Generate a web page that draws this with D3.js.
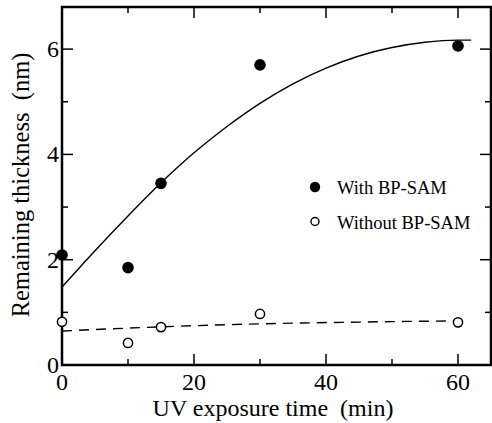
<!DOCTYPE html>
<html>
<head>
<meta charset="utf-8">
<script src="https://cdn.jsdelivr.net/npm/d3@7"></script>
<style>
  body { margin: 0; background: #fff; }
  svg text { font-family: "Liberation Serif", "Times New Roman", serif; fill: #000; }
</style>
</head>
<body>
<div id="chart"></div>
<script>
// measured points
const timeWith = [0, 10, 15, 30, 60];
const thickWith = [2.09, 1.85, 3.45, 5.70, 6.06];
const timeWithout = [0, 10, 15, 30, 60];
const thickWithout = [0.82, 0.42, 0.72, 0.97, 0.81];

// fitted curves
const fitWithX = [0, 5, 10, 15, 20, 25, 30, 35, 40, 45, 50, 55, 60, 62];
const fitWithY = [1.48, 2.17, 2.83, 3.46, 4.03, 4.53, 4.97, 5.34, 5.64, 5.87, 6.03, 6.13, 6.17, 6.17];
const fitWithoutX = [0, 15, 33, 45, 61];
const fitWithoutY = [0.645, 0.725, 0.79, 0.815, 0.84];

const xMajor = [0, 20, 40, 60];
const xMinor = [10, 30, 50];
const yMajor = [0, 2, 4, 6];
const yMinor = [1, 3, 5];

const legendLabels = ["With BP-SAM", "Without BP-SAM"];

const W = 492, H = 423;
const svg = d3.select("#chart").append("svg")
    .attr("width", W)
    .attr("height", H);

const x = d3.scaleLinear().domain([0, 65]).range([62, 491]);
const y = d3.scaleLinear().domain([0, 6.8]).range([365, 7]);

const x0 = x.range()[0], x1 = x.range()[1];
const y0 = y.range()[0], y1 = y.range()[1];

// tick marks, inward on all four sides
function ticks(vals, len) {
    vals.forEach(v => {
        svg.append("line").attr("x1", x(v)).attr("x2", x(v)).attr("y1", y0).attr("y2", y0 - len);
        svg.append("line").attr("x1", x(v)).attr("x2", x(v)).attr("y1", y1).attr("y2", y1 + len);
    });
}
function yticks(vals, len) {
    vals.forEach(v => {
        svg.append("line").attr("x1", x0).attr("x2", x0 + len).attr("y1", y(v)).attr("y2", y(v));
        svg.append("line").attr("x1", x1).attr("x2", x1 - len).attr("y1", y(v)).attr("y2", y(v));
    });
}
ticks(xMajor, 11);
ticks(xMinor, 6);
yticks(yMajor, 11);
yticks(yMinor, 6);
svg.selectAll("line").attr("stroke", "#000").attr("stroke-width", 1.5);

// frame
svg.append("rect")
    .attr("x", x0).attr("y", y1)
    .attr("width", x1 - x0).attr("height", y0 - y1)
    .attr("fill", "none").attr("stroke", "#000").attr("stroke-width", 2.5);

// tick labels
svg.selectAll(".xl").data(xMajor).enter().append("text")
    .attr("x", d => x(d)).attr("y", 390)
    .attr("text-anchor", "middle")
    .style("font-size", "24px")
    .text(d => d);

svg.selectAll(".yl").data(yMajor).enter().append("text")
    .attr("x", 59).attr("y", d => y(d) + 8)
    .attr("text-anchor", "end")
    .style("font-size", "24px")
    .text(d => d);

// axis titles
svg.append("text")
    .attr("x", 273).attr("y", 416)
    .attr("text-anchor", "middle")
    .style("font-size", "24px")
    .style("white-space", "pre")
    .attr("xml:space", "preserve")
    .text("UV exposure time  (min)");

svg.append("text")
    .attr("transform", "translate(29,185) rotate(-90)")
    .attr("text-anchor", "middle")
    .style("font-size", "24.5px")
    .style("white-space", "pre")
    .attr("xml:space", "preserve")
    .text("Remaining thickness  (nm)");

// fit lines
const line = d3.line().x(d => x(d[0])).y(d => y(d[1])).curve(d3.curveMonotoneX);

svg.append("path")
    .datum(d3.zip(fitWithX, fitWithY))
    .attr("d", line)
    .attr("fill", "none").attr("stroke", "#000").attr("stroke-width", 1.4);

svg.append("path")
    .datum(d3.zip(fitWithoutX, fitWithoutY))
    .attr("d", line)
    .attr("fill", "none").attr("stroke", "#000").attr("stroke-width", 1.4)
    .attr("stroke-dasharray", "10,7");

// points
svg.selectAll(".pw").data(d3.zip(timeWith, thickWith)).enter().append("circle")
    .attr("cx", d => x(d[0])).attr("cy", d => y(d[1]))
    .attr("r", 5.8).attr("fill", "#000");

svg.selectAll(".po").data(d3.zip(timeWithout, thickWithout)).enter().append("circle")
    .attr("cx", d => x(d[0])).attr("cy", d => y(d[1]))
    .attr("r", 4.6).attr("fill", "#fff")
    .attr("stroke", "#000").attr("stroke-width", 1.5);

// legend
const legend = svg.append("g").attr("transform", "translate(315,187)");
legend.append("circle").attr("cx", 0).attr("cy", 0).attr("r", 5.2).attr("fill", "#000");
legend.append("circle").attr("cx", 0).attr("cy", 34.5).attr("r", 4).attr("fill", "#fff")
    .attr("stroke", "#000").attr("stroke-width", 1.4);
legend.selectAll("text").data(legendLabels).enter().append("text")
    .attr("x", 22).attr("y", (d, i) => 7 + i * 35)
    .style("font-size", "18.5px")
    .text(d => d);
</script>
</body>
</html>
